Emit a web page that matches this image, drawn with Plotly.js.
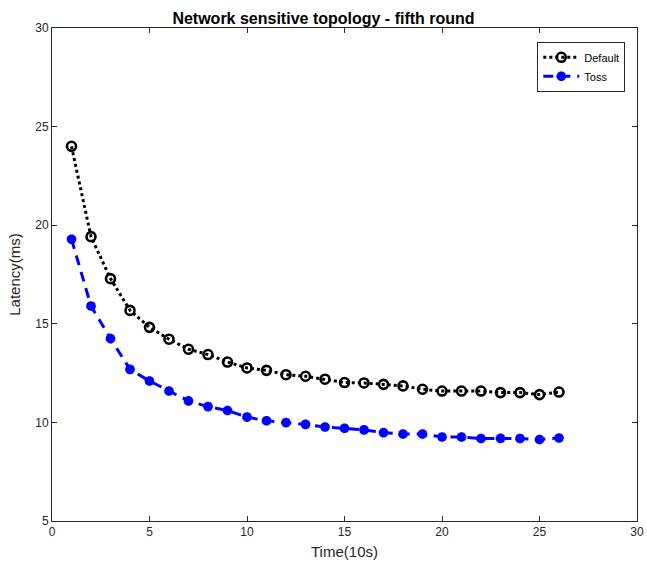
<!DOCTYPE html>
<html>
<head>
<meta charset="utf-8">
<script src="https://cdn.plot.ly/plotly-3.0.1.min.js"></script>
<style>
  html, body { margin: 0; padding: 0; background: #fff; }
  #chart { width: 647px; height: 571px; }
</style>
</head>
<body>
<div id="chart"></div>
<script>
// Time steps (units of 10 s)
const timeSteps = [1, 2, 3, 4, 5, 6, 7, 8, 9, 10, 11, 12, 13, 14, 15, 16, 17, 18, 19, 20, 21, 22, 23, 24, 25, 26];

// Latency (ms) for each scheme
const defaultLatency = [24.0, 19.42, 17.29, 15.68, 14.82, 14.22, 13.71, 13.44, 13.06, 12.76, 12.64, 12.42, 12.34, 12.19, 12.02, 12.0, 11.93, 11.85, 11.68, 11.59, 11.59, 11.59, 11.51, 11.51, 11.41, 11.54];
const tossLatency = [19.29, 15.9, 14.25, 12.69, 12.1, 11.59, 11.09, 10.8, 10.6, 10.27, 10.08, 9.99, 9.9, 9.77, 9.7, 9.62, 9.48, 9.41, 9.41, 9.26, 9.26, 9.18, 9.19, 9.18, 9.13, 9.21];

const xTicks = [0, 5, 10, 15, 20, 25, 30];
const yTicks = [5, 10, 15, 20, 25, 30];

const axisColor = '#262626';
const font = 'Liberation Sans, Arial, Helvetica, sans-serif';

const traces = [
  {
    x: timeSteps, y: defaultLatency, name: 'Default',
    mode: 'lines+markers', type: 'scatter',
    line: { color: '#000000', width: 3, dash: 'dot' },
    marker: { symbol: 'circle-open', size: 9, color: '#000000', line: { width: 2.6, color: '#000000' } }
  },
  {
    x: timeSteps, y: tossLatency, name: 'Toss',
    mode: 'lines+markers', type: 'scatter',
    line: { color: '#0000ff', width: 3, dash: '10px,7px' },
    marker: { symbol: 'asterisk-open', size: 8, color: '#0000ff', line: { width: 3.2, color: '#0000ff' } }
  }
];

const axisCommon = {
  showline: true, linecolor: axisColor, linewidth: 1,
  mirror: 'ticks', ticks: 'inside', ticklen: 5, tickwidth: 1, tickcolor: axisColor,
  showgrid: false, zeroline: false,
  tickfont: { family: font, size: 12, color: axisColor }
};

const layout = {
  width: 647, height: 571,
  margin: { l: 52, r: 10, t: 28, b: 50 },
  paper_bgcolor: '#ffffff', plot_bgcolor: '#ffffff',
  title: {
    text: '<b>Network sensitive topology - fifth round</b>',
    font: { family: font, size: 16, color: '#000000' },
    x: 0.5, xanchor: 'center', y: 1, yref: 'paper', yanchor: 'bottom', pad: { b: 4 }
  },
  xaxis: Object.assign({}, axisCommon, {
    range: [0, 30], tickvals: xTicks, ticktext: xTicks.map(String),
    title: { text: 'Time(10s)', font: { family: font, size: 15, color: axisColor }, standoff: 8 }
  }),
  yaxis: Object.assign({}, axisCommon, {
    range: [5, 30], tickvals: yTicks, ticktext: yTicks.map(String),
    title: { text: 'Latency(ms)', font: { family: font, size: 15, color: axisColor }, standoff: 10 }
  }),
  showlegend: true,
  legend: {
    x: 0.98, xanchor: 'right', y: 0.972, yanchor: 'top',
    bgcolor: '#ffffff', bordercolor: axisColor, borderwidth: 1,
    font: { family: font, size: 11, color: '#000000' },
    tracegroupgap: 0, itemwidth: 36
  }
};

Plotly.newPlot('chart', traces, layout, { displayModeBar: false, staticPlot: true });
</script>
</body>
</html>
